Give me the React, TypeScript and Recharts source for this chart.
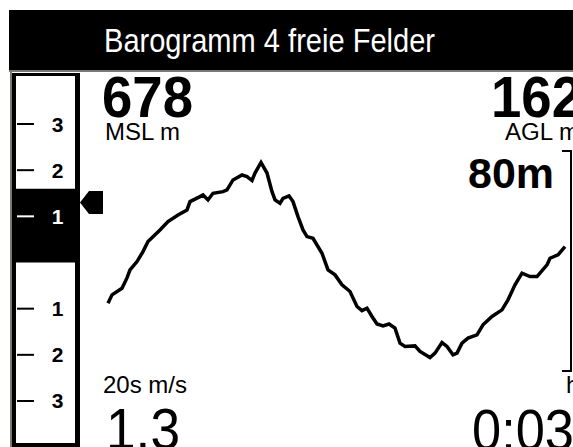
import React from 'react';
import { LineChart, Line, XAxis, YAxis, BarChart, Bar, ReferenceLine } from 'recharts';

// Barogram: time (s) and altitude MSL (m)
const baroTime = [0, 4, 14, 19, 22, 29, 35, 40, 52, 60, 70, 79, 82, 92, 95, 100, 105, 115, 119, 125, 134, 139, 144, 147, 153, 159, 164, 167, 172, 175, 181, 185, 190, 195, 199, 205, 214, 220, 227, 234, 242, 249, 254, 259, 264, 269, 275, 281, 287, 292, 297, 307, 312, 322, 327, 334, 339, 345, 349, 354, 360, 369, 375, 384, 394, 400, 407, 414, 422, 429, 439, 442, 450, 457];
const baroAlt = [657.6, 660.6, 663.0, 666.7, 669.6, 672.6, 676.2, 679.8, 684.0, 687.0, 689.4, 691.2, 694.2, 696.0, 696.6, 694.8, 697.2, 697.8, 698.4, 702.0, 703.8, 703.2, 701.8, 704.5, 708.3, 704.5, 697.8, 694.8, 693.6, 695.4, 696.3, 694.2, 688.8, 684.0, 681.6, 681.0, 675.6, 669.6, 667.8, 664.2, 661.8, 656.4, 654.9, 655.8, 652.8, 650.1, 649.4, 650.1, 648.6, 643.2, 642.0, 642.2, 640.2, 638.0, 639.6, 643.4, 642.0, 639.0, 639.6, 643.2, 645.0, 646.2, 649.8, 652.8, 655.2, 658.8, 664.2, 668.4, 667.2, 667.2, 671.4, 673.8, 675.0, 678.0];
const altDomain = [632.8, 712.8]; // 80 m window
const timeDomain = [0, 457];

// Vario
const varioTicks = [3, 2, 1, -1, -2, -3];
const varioDomain = [-3.91, 4.04];
const varioCurrent = 1.6;
const varioAverage = 1.3;

// Field texts
const title = 'Barogramm 4 freie Felder';
const fieldMSL = '678';
const labelMSL = 'MSL m';
const fieldAGL = '162';
const labelAGL = 'AGL m';
const scaleLabel = '80m';
const labelAvg = '20s m/s';
const fieldAvg = '1.3';
const fieldTime = '0:03';
const labelTime = 'h:m';

const baroData = baroTime.map((t, i) => ({ t, alt: baroAlt[i] }));
const varioData = [{ name: 'vario', value: varioCurrent }];

const FONT = '"Liberation Sans", Arial, sans-serif';

const VarioTick = (props: any) => {
  const { y, payload } = props;
  const v = payload.value;
  const inBar = v >= 0 && v <= varioCurrent;
  const c = inBar ? '#fff' : '#000';
  return (
    <g>
      <line x1={1} x2={18} y1={y} y2={y} stroke={c} strokeWidth={2} />
      <text x={41.5} y={y + 7.5} textAnchor="middle" fontSize={21} fontWeight="bold" fill={c} fontFamily={FONT}>
        {Math.abs(v)}
      </text>
    </g>
  );
};

const ArrowLabel = (p: any) => {
  const vb = p.viewBox || {};
  const x0 = (vb.x || 0) + (vb.width || 0) + 5;
  const y0 = vb.y || 0;
  const pts = `${x0},${y0} ${x0 + 9},${y0 - 11.5} ${x0 + 23},${y0 - 11.5} ${x0 + 23},${y0 + 11.5} ${x0 + 9},${y0 + 11.5}`;
  return <polygon points={pts} fill="#000" />;
};

export default function App() {
  return (
    <div style={{ position: 'absolute', left: 0, top: 0, width: 573, height: 447, overflow: 'hidden', background: '#fff' }}>
      {/* title bar */}
      <div style={{ position: 'absolute', left: 9, top: 10, width: 564, height: 60, background: '#000' }} />
      {/* display border */}
      <div style={{ position: 'absolute', left: 9, top: 70, width: 564, height: 2, background: '#7a7a72' }} />
      <div style={{ position: 'absolute', left: 10, top: 70, width: 2, height: 377, background: '#7a7a72' }} />
      {/* vario strip frame */}
      <div style={{ position: 'absolute', left: 12, top: 73, width: 68, height: 374, background: '#000' }} />
      <div style={{ position: 'absolute', left: 16, top: 76, width: 59, height: 367, background: '#fff' }} />

      {/* vario chart */}
      <div style={{ position: 'absolute', left: 16, top: 76 }}>
        <BarChart width={88} height={367} data={varioData} margin={{ top: 0, right: 29, bottom: 0, left: 0 }} barCategoryGap="0%">
          <XAxis dataKey="name" hide />
          <YAxis type="number" domain={varioDomain} allowDataOverflow ticks={varioTicks} interval={0} mirror axisLine={false} tickLine={false} tick={(p: any) => <VarioTick {...p} />} />
          <Bar dataKey="value" fill="#000" isAnimationActive={false} />
          <ReferenceLine y={varioAverage} stroke="none" label={{ content: (p: any) => <ArrowLabel {...p} /> }} />
        </BarChart>
      </div>

      {/* barogram */}
      <div style={{ position: 'absolute', left: 0, top: 0 }}>
        <LineChart width={573} height={447} data={baroData} margin={{ top: 150, right: 8, bottom: 75, left: 108 }}>
          <XAxis type="number" dataKey="t" domain={timeDomain} hide />
          <YAxis type="number" domain={altDomain} allowDataOverflow hide />
          <Line type="linear" dataKey="alt" stroke="#000" strokeWidth={3.5} dot={false} isAnimationActive={false} />
        </LineChart>
      </div>

      {/* texts and scale bracket */}
      <svg width={573} height={447} style={{ position: 'absolute', left: 0, top: 0, pointerEvents: 'none' }}>
        <text x={104} y={52} fontSize={33} fill="#fff" fontFamily={FONT} textLength={331} lengthAdjust="spacingAndGlyphs">{title}</text>

        <text x={102} y={117} fontSize={58} fontWeight="bold" fill="#000" fontFamily={FONT} textLength={91} lengthAdjust="spacingAndGlyphs">{fieldMSL}</text>
        <text x={105} y={140} fontSize={23} fill="#000" fontFamily={FONT} textLength={75} lengthAdjust="spacingAndGlyphs">{labelMSL}</text>

        <text x={491} y={117} fontSize={58} fontWeight="bold" fill="#000" fontFamily={FONT} textLength={91} lengthAdjust="spacingAndGlyphs">{fieldAGL}</text>
        <text x={505} y={140} fontSize={23} fill="#000" fontFamily={FONT} textLength={74} lengthAdjust="spacingAndGlyphs">{labelAGL}</text>

        <text x={468} y={188} fontSize={42} fontWeight="bold" fill="#000" fontFamily={FONT} textLength={86} lengthAdjust="spacingAndGlyphs">{scaleLabel}</text>

        <rect x={570} y={150} width={2} height={222} fill="#000" />
        <rect x={562} y={150} width={10} height={2} fill="#000" />
        <rect x={562} y={370} width={10} height={2} fill="#000" />

        <text x={103} y={393} fontSize={24} fill="#000" fontFamily={FONT} textLength={84} lengthAdjust="spacingAndGlyphs">{labelAvg}</text>
        <text x={566} y={393} fontSize={24} fill="#000" fontFamily={FONT}>{labelTime}</text>

        <text x={106} y={449} fontSize={58} fill="#000" fontFamily={FONT} textLength={74} lengthAdjust="spacingAndGlyphs">{fieldAvg}</text>
        <text x={472} y={450} fontSize={58} fill="#000" fontFamily={FONT} textLength={102} lengthAdjust="spacingAndGlyphs">{fieldTime}</text>
      </svg>
    </div>
  );
}
